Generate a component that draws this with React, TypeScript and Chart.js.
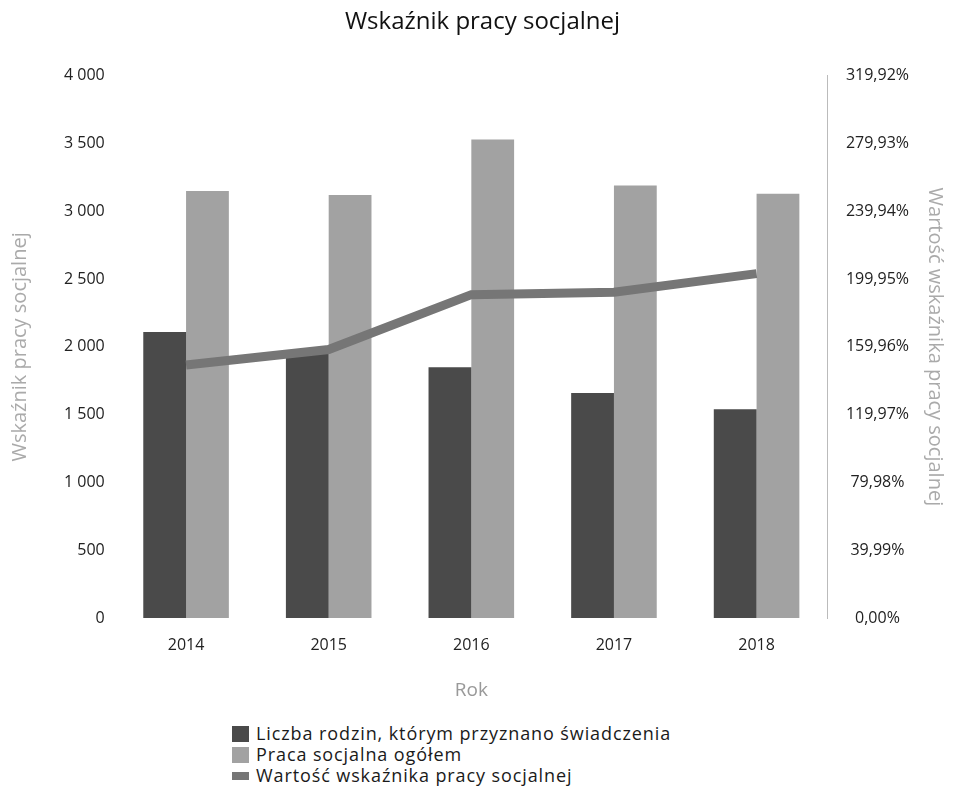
import React, { useEffect, useRef } from "react";
import { Chart, registerables } from "chart.js";

Chart.register(...registerables);

const years = ["2014", "2015", "2016", "2017", "2018"];
const families = [2110, 1970, 1850, 1660, 1540];
const socialWork = [3150, 3120, 3530, 3190, 3130];
const indicator = [149.3, 158.4, 190.8, 192.2, 203.2];

const labelFamilies = "Liczba rodzin, którym przyznano świadczenia";
const labelWork = "Praca socjalna ogółem";
const labelIndicator = "Wartość wskaźnika pracy socjalnej";

const leftMax = 4000;
const rightMax = 319.92;
const rightStep = 39.99;

const colDark = "#4a4a4a";
const colLight = "#a2a2a2";
const colLine = "#767676";

const FONT = "'Open Sans', 'DejaVu Sans', sans-serif";

function fmtThousands(v: number): string {
  return String(Math.round(v)).replace(/\B(?=(\d{3})+(?!\d))/g, " ");
}

export default function App() {
  const ref = useRef<HTMLCanvasElement | null>(null);

  useEffect(() => {
    if (!ref.current) return;
    const chart = new Chart(ref.current, {
      type: "bar",
      data: {
        labels: years,
        datasets: [
          {
            type: "line",
            label: labelIndicator,
            data: indicator,
            yAxisID: "y1",
            borderColor: colLine,
            backgroundColor: colLine,
            borderWidth: 9,
            pointRadius: 0,
            tension: 0,
            order: 0,
          } as any,
          {
            label: labelFamilies,
            data: families,
            yAxisID: "y",
            backgroundColor: colDark,
            categoryPercentage: 0.6,
            barPercentage: 1.0,
            order: 1,
          },
          {
            label: labelWork,
            data: socialWork,
            yAxisID: "y",
            backgroundColor: colLight,
            categoryPercentage: 0.6,
            barPercentage: 1.0,
            order: 1,
          },
        ],
      },
      options: {
        animation: false,
        responsive: false,
        layout: { padding: { top: 6, left: 4, right: 2, bottom: 4 } },
        plugins: {
          legend: { display: false },
          tooltip: { enabled: false },
          title: {
            display: true,
            text: "Wskaźnik pracy socjalnej",
            color: "#111",
            font: { family: FONT, size: 24, weight: "normal" },
            padding: { top: 2, bottom: 39 },
          },
        },
        scales: {
          x: {
            grid: { display: false },
            border: { display: false },
            ticks: { color: "#222", font: { family: FONT, size: 16 }, padding: 10 },
            title: {
              display: true,
              text: "Rok",
              color: "#999",
              font: { family: FONT, size: 19 },
              padding: { top: 14 },
            },
          },
          y: {
            position: "left",
            min: 0,
            max: leftMax,
            ticks: {
              stepSize: 500,
              color: "#222",
              font: { family: FONT, size: 16 },
              padding: 2,
              callback: (v: any) => fmtThousands(Number(v)),
            },
            grid: { display: false },
            border: { display: false },
            title: {
              display: true,
              text: "Wskaźnik pracy socjalnej",
              color: "#aaa",
              font: { family: FONT, size: 20 },
              padding: { bottom: 30 },
            },
          },
          y1: {
            position: "right",
            min: 0,
            max: rightMax,
            afterBuildTicks: (scale: any) => {
              const t = [];
              for (let i = 0; i <= 8; i++) t.push({ value: i === 8 ? rightMax : i * rightStep });
              scale.ticks = t;
            },
            ticks: {
              color: "#222",
              font: { family: FONT, size: 16 },
              padding: 10,
              crossAlign: "center",
              callback: (v: any) => Number(v).toFixed(2).replace(".", ",") + "%",
            },
            grid: { display: false, drawOnChartArea: false },
            border: { display: true, color: "#bbb", dash: [1, 3], width: 1 },
            title: {
              display: true,
              text: "Wartość wskaźnika pracy socjalnej",
              color: "#aaa",
              font: { family: FONT, size: 20 },
              padding: { top: 14 },
            },
          },
        },
      } as any,
    });
    return () => chart.destroy();
  }, []);

  const legendItems = [
    { label: labelFamilies, color: colDark, h: 16 },
    { label: labelWork, color: colLight, h: 16 },
    { label: labelIndicator, color: colLine, h: 8 },
  ];

  return (
    <div style={{ position: "absolute", left: 0, top: 0, width: 963, height: 798, background: "#fff" }}>
      <canvas ref={ref} width={963} height={710} style={{ display: "block" }} />
      <div
        style={{
          position: "absolute",
          left: 232,
          top: 723,
          fontFamily: FONT,
          fontSize: 18,
          letterSpacing: "0.9px",
          color: "#1a1a1a",
          lineHeight: "21px",
        }}
      >
        {legendItems.map((it) => (
          <div key={it.label} style={{ display: "flex", alignItems: "center", height: 21, whiteSpace: "nowrap" }}>
            <span
              style={{
                display: "inline-block",
                width: 17,
                height: it.h,
                background: it.color,
                marginRight: 7,
              }}
            />
            <span>{it.label}</span>
          </div>
        ))}
      </div>
    </div>
  );
}
